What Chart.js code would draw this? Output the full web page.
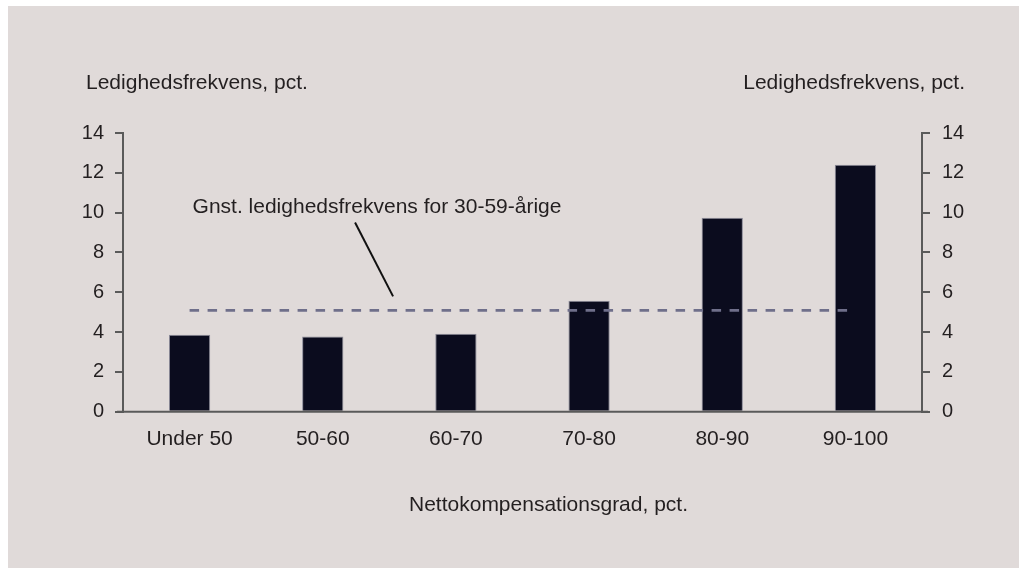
<!DOCTYPE html>
<html>
<head>
<meta charset="utf-8">
<script src="https://cdn.jsdelivr.net/npm/chart.js@4.4.1/dist/chart.umd.min.js"></script>
<style>
  html, body { margin: 0; padding: 0; background: #ffffff; }
  #wrap { width: 1019px; height: 574px; position: relative; }
</style>
</head>
<body>
<div id="wrap"><canvas id="c" width="1019" height="574"></canvas></div>
<script>
const categories = ["Under 50", "50-60", "60-70", "70-80", "80-90", "90-100"];
const unemploymentRate = [3.86, 3.78, 3.91, 5.57, 9.74, 12.4];
const averageRate = [5.09, 5.09, 5.09, 5.09, 5.09, 5.09];
const yTicks = [0, 2, 4, 6, 8, 10, 12, 14];
const yTitle = "Ledighedsfrekvens, pct.";
const xTitle = "Nettokompensationsgrad, pct.";
const annotationText = "Gnst. ledighedsfrekvens for 30-59-årige";

const FONT = "'Liberation Sans', Arial, Helvetica, sans-serif";
const TEXT = "#231f20";
const AXIS = "#5a5a5a";

const bgPlugin = {
  id: 'bg',
  beforeDraw(chart) {
    const ctx = chart.ctx;
    ctx.save();
    ctx.fillStyle = '#ffffff';
    ctx.fillRect(0, 0, chart.width, chart.height);
    ctx.fillStyle = '#e0dad9';
    ctx.fillRect(8, 6, chart.width - 8, 562);
    ctx.restore();
  }
};

const decorPlugin = {
  id: 'decor',
  afterDraw(chart) {
    const ctx = chart.ctx;
    const ca = chart.chartArea;
    const xs = chart.scales.x, ys = chart.scales.y;
    ctx.save();
    ctx.strokeStyle = AXIS;
    ctx.lineWidth = 2;
    ctx.beginPath();
    ctx.moveTo(ca.left - 6, ys.getPixelForValue(0));
    ctx.lineTo(ca.right + 6, ys.getPixelForValue(0));
    ctx.stroke();
    ctx.fillStyle = TEXT;
    ctx.font = "21px " + FONT;
    ctx.textBaseline = 'alphabetic';
    ctx.textAlign = 'left';
    ctx.fillText(yTitle, ca.left - 37, ca.top - 44);
    ctx.textAlign = 'right';
    ctx.fillText(yTitle, ca.right + 43, ca.top - 44);
    ctx.textAlign = 'center';
    ctx.fillText(xTitle, (ca.left + ca.right) / 2 + 26, ys.getPixelForValue(0) + 99);
    ctx.textAlign = 'left';
    ctx.fillText(annotationText, xs.getPixelForValue(0) + 3, ys.getPixelForValue(10));
    const yLine = ys.getPixelForValue(averageRate[0]);
    const dx = xs.getPixelForValue(2) - xs.getPixelForValue(1);
    const xEnd = xs.getPixelForValue(1) + 0.528 * dx;
    ctx.strokeStyle = '#111111';
    ctx.lineWidth = 2;
    ctx.beginPath();
    ctx.moveTo(xEnd - 38, ys.getPixelForValue(9.5));
    ctx.lineTo(xEnd, yLine - 14);
    ctx.stroke();
    ctx.restore();
  }
};

new Chart(document.getElementById('c'), {
  data: {
    labels: categories,
    datasets: [
      {
        type: 'line',
        data: averageRate,
        borderColor: '#6f6f8a',
        borderWidth: 2.7,
        borderDash: [9.5, 8.5],
        pointRadius: 0,
        fill: false,
        yAxisID: 'y',
        order: 0
      },
      {
        type: 'bar',
        data: unemploymentRate,
        backgroundColor: '#0b0c1e',
        borderColor: '#8a8a98',
        borderWidth: 1,
        categoryPercentage: 1,
        barPercentage: 0.31,
        yAxisID: 'y',
        order: 1
      }
    ]
  },
  options: {
    responsive: false,
    animation: false,
    devicePixelRatio: 1,
    layout: { padding: { top: 133, left: 0, right: 0, bottom: 0 } },
    plugins: { legend: { display: false }, tooltip: { enabled: false } },
    scales: {
      x: {
        grid: { display: false, drawTicks: false },
        border: { display: false },
        ticks: { color: TEXT, font: { family: FONT, size: 21 }, padding: 15, maxRotation: 0 },
        afterFit(s) { s.height = 574 - 411.7; }
      },
      y: {
        position: 'left',
        min: 0, max: 14,
        afterBuildTicks(s) { s.ticks = yTicks.map(v => ({ value: v })); },
        grid: { drawOnChartArea: false, drawTicks: true, tickLength: 8, color: AXIS, lineWidth: 2 },
        border: { display: true, color: AXIS, width: 2 },
        ticks: { color: TEXT, font: { family: FONT, size: 20 }, padding: 11 },
        afterFit(s) { s.width = 123; }
      },
      y2: {
        position: 'right',
        min: 0, max: 14,
        afterBuildTicks(s) { s.ticks = yTicks.map(v => ({ value: v })); },
        grid: { drawOnChartArea: false, drawTicks: true, tickLength: 8, color: AXIS, lineWidth: 2 },
        border: { display: true, color: AXIS, width: 2 },
        ticks: { color: TEXT, font: { family: FONT, size: 20 }, padding: 12 },
        afterFit(s) { s.width = 1019 - 922; }
      }
    }
  },
  plugins: [bgPlugin, decorPlugin]
});
</script>
</body>
</html>
